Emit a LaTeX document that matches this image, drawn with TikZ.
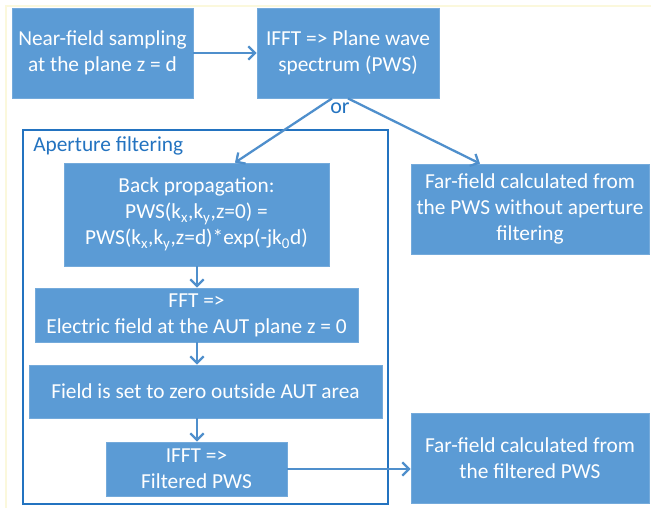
\documentclass[tikz,border=0pt]{standalone}
\usepackage{fontspec}
\setmainfont{Carlito}
\usetikzlibrary{arrows.meta,calc}
\definecolor{boxblue}{HTML}{5B9BD5}
\definecolor{edgeblue}{HTML}{4F8FCC}
\definecolor{framblue}{HTML}{2373C0}
\definecolor{pageline}{HTML}{FBF8DC}
\tikzset{
  x=0.75pt, y=-0.75pt,
  stepbox/.style={draw=boxblue!85!white, line width=0.6pt, fill=boxblue, text=white,
    align=center, inner sep=2pt, font=\fontsize{16}{19.5}\selectfont},
  flow/.style={draw=edgeblue, line width=1.7pt,
    -{Straight Barb[length=5pt,width=10pt,line width=1.7pt]}},
}
\begin{document}
\begin{tikzpicture}
\useasboundingbox (0,0) rectangle (651,508);
\fill[white] (0,0) rectangle (651,508);
% faint page edge
\draw[pageline, line width=0.8pt] (6,508) -- (6,6) -- (651,6);

% top row
\node[stepbox, minimum width=181*0.75pt, minimum height=90*0.75pt] (nf) at (102.5,53)
  {Near-field sampling\\at the plane z = d};
\node[stepbox, minimum width=182*0.75pt, minimum height=90*0.75pt] (pws) at (348,53)
  {IFFT => Plane wave\\spectrum (PWS)};

% aperture filtering frame
\node[draw=framblue, line width=1.9pt, minimum width=365*0.75pt, minimum height=374*0.75pt,
  inner sep=0pt] (frame) at (205.5,317) {};
\node[anchor=west, text=framblue, font=\fontsize{16}{19}\selectfont, inner sep=0pt]
  (ftitle) at (33,146) {Aperture filtering};

% filtering chain
\node[stepbox, minimum width=265*0.75pt, minimum height=103*0.75pt] (bp) at (196.5,214.5)
  {Back propagation:\\PWS(k\textsubscript{x},k\textsubscript{y},z=0) =\\PWS(k\textsubscript{x},k\textsubscript{y},z=d)*exp(-jk\textsubscript{0}d)};
\node[stepbox, minimum width=323*0.75pt, minimum height=54*0.75pt] (fft) at (196.5,315)
  {FFT =>\\Electric field at the AUT plane z = 0};
\node[stepbox, minimum width=353*0.75pt, minimum height=53*0.75pt] (zero) at (205.5,391.5)
  {Field is set to zero outside AUT area};
\node[stepbox, minimum width=181*0.75pt, minimum height=54*0.75pt] (ifft) at (196.5,469)
  {IFFT =>\\Filtered PWS};

% far-field results
\node[stepbox, minimum width=238*0.75pt, minimum height=90*0.75pt] (ffa) at (530,209)
  {Far-field calculated from\\the PWS without aperture\\filtering};
\node[stepbox, minimum width=238*0.75pt, minimum height=90*0.75pt] (ffb) at (530,458)
  {Far-field calculated from\\the filtered PWS};

% connectors
\draw[flow] (nf.east) -- (pws.west);
\draw[flow] ($(pws.south)+(-16,0)$) -- ($(bp.north)+(38.5,0)$);
\draw[flow] ($(pws.south)+(0,0)$) -- ($(ffa.north)+(-50,0)$);
\node[text=framblue, font=\fontsize{16.5}{18}\selectfont, inner sep=0pt] (orlbl) at (340,108) {or};
\draw[flow] ($(bp.south)+(0.5,0)$) -- ($(fft.north)+(0.5,0)$);
\draw[flow] ($(fft.south)+(0.5,0)$) -- ($(zero.north)+(-8.5,0)$);
\draw[flow] ($(zero.south)+(-8.5,0)$) -- ($(ifft.north)+(0.5,0)$);
\draw[flow] (ifft.east) -- (ifft.east -| ffb.west);
\end{tikzpicture}
\end{document}
